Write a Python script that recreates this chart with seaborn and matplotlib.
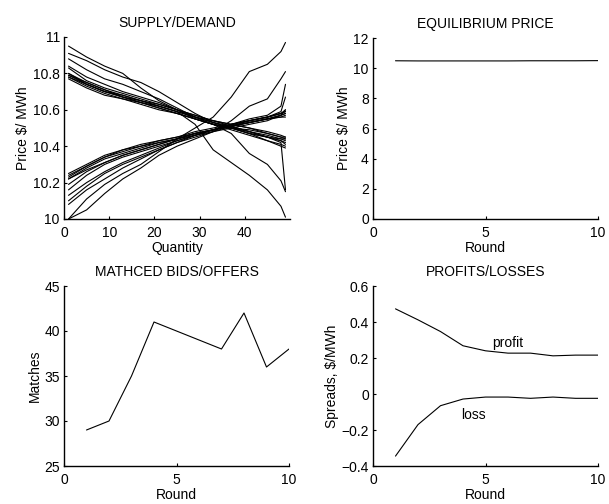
import numpy as np
import pandas as pd
import matplotlib
matplotlib.use("Agg")
import matplotlib.pyplot as plt
import seaborn as sns

# ---------------- data ----------------
quantity = [1, 5, 9, 13, 17, 21, 25, 29, 33, 37, 41, 45, 48, 49]

demand_curves = [
    [10.95, 10.89, 10.84, 10.80, 10.72, 10.65, 10.60, 10.55, 10.52, 10.50, 10.48, 10.46, 10.44, 10.44],
    [10.91, 10.87, 10.82, 10.78, 10.75, 10.70, 10.64, 10.58, 10.53, 10.50, 10.47, 10.45, 10.43, 10.42],
    [10.88, 10.82, 10.77, 10.74, 10.70, 10.66, 10.61, 10.56, 10.52, 10.49, 10.46, 10.43, 10.41, 10.40],
    [10.84, 10.78, 10.74, 10.70, 10.67, 10.64, 10.60, 10.57, 10.54, 10.51, 10.48, 10.45, 10.43, 10.41],
    [10.83, 10.76, 10.72, 10.69, 10.66, 10.63, 10.60, 10.56, 10.53, 10.50, 10.47, 10.45, 10.42, 10.16],
    [10.80, 10.75, 10.71, 10.67, 10.65, 10.62, 10.59, 10.56, 10.53, 10.51, 10.48, 10.45, 10.44, 10.43],
    [10.79, 10.74, 10.70, 10.68, 10.65, 10.63, 10.60, 10.57, 10.54, 10.52, 10.50, 10.47, 10.45, 10.44],
    [10.78, 10.73, 10.69, 10.66, 10.64, 10.61, 10.58, 10.55, 10.52, 10.50, 10.49, 10.47, 10.45, 10.45],
    [10.78, 10.74, 10.70, 10.67, 10.64, 10.62, 10.59, 10.56, 10.54, 10.52, 10.50, 10.48, 10.46, 10.45],
    [10.79, 10.75, 10.71, 10.68, 10.65, 10.62, 10.59, 10.52, 10.38, 10.31, 10.24, 10.16, 10.07, 10.01],
    [10.80, 10.74, 10.70, 10.67, 10.64, 10.61, 10.58, 10.55, 10.52, 10.47, 10.36, 10.30, 10.21, 10.15],
    [10.77, 10.72, 10.68, 10.66, 10.63, 10.60, 10.58, 10.55, 10.52, 10.50, 10.47, 10.43, 10.40, 10.39],
]

supply_curves = [
    [10.00, 10.11, 10.19, 10.25, 10.30, 10.37, 10.44, 10.50, 10.56, 10.67, 10.81, 10.85, 10.92, 10.97],
    [10.00, 10.05, 10.14, 10.22, 10.28, 10.35, 10.40, 10.44, 10.48, 10.54, 10.62, 10.66, 10.77, 10.81],
    [10.08, 10.16, 10.22, 10.28, 10.33, 10.38, 10.42, 10.46, 10.49, 10.52, 10.55, 10.57, 10.62, 10.74],
    [10.13, 10.20, 10.26, 10.31, 10.35, 10.39, 10.43, 10.46, 10.49, 10.52, 10.54, 10.56, 10.59, 10.67],
    [10.10, 10.18, 10.25, 10.30, 10.34, 10.38, 10.42, 10.45, 10.48, 10.51, 10.54, 10.56, 10.58, 10.60],
    [10.16, 10.24, 10.30, 10.34, 10.37, 10.40, 10.43, 10.46, 10.49, 10.52, 10.54, 10.56, 10.58, 10.59],
    [10.19, 10.26, 10.31, 10.35, 10.38, 10.41, 10.44, 10.47, 10.49, 10.51, 10.53, 10.55, 10.57, 10.58],
    [10.22, 10.28, 10.33, 10.36, 10.39, 10.42, 10.44, 10.47, 10.49, 10.51, 10.53, 10.55, 10.57, 10.58],
    [10.23, 10.29, 10.34, 10.37, 10.40, 10.43, 10.45, 10.47, 10.49, 10.51, 10.53, 10.55, 10.56, 10.57],
    [10.25, 10.30, 10.35, 10.38, 10.41, 10.43, 10.45, 10.48, 10.50, 10.52, 10.54, 10.56, 10.58, 10.59],
    [10.24, 10.29, 10.34, 10.38, 10.40, 10.42, 10.44, 10.46, 10.48, 10.50, 10.52, 10.54, 10.57, 10.60],
    [10.22, 10.27, 10.31, 10.35, 10.38, 10.41, 10.44, 10.47, 10.49, 10.51, 10.53, 10.55, 10.56, 10.56],
]

rounds = [1, 2, 3, 4, 5, 6, 7, 8, 9, 10]
equilibrium_price = [10.49, 10.48, 10.48, 10.48, 10.48, 10.48, 10.49, 10.49, 10.49, 10.50]
matches = [29, 30, 35, 41, 40, 39, 38, 42, 36, 38]
profit = [0.473, 0.412, 0.347, 0.268, 0.240, 0.227, 0.227, 0.212, 0.216, 0.216]
loss = [-0.345, -0.170, -0.065, -0.028, -0.017, -0.017, -0.024, -0.017, -0.024, -0.024]

titles = ["SUPPLY/DEMAND", "EQUILIBRIUM PRICE", "MATHCED BIDS/OFFERS", "PROFITS/LOSSES"]

# ---------------- style ----------------
sns.set_style("ticks")
plt.rcParams['font.family'] = ['Liberation Sans', 'DejaVu Sans']
FS = 10
plt.rcParams.update({
    'font.size': FS,
    'axes.titlesize': FS,
    'axes.labelsize': FS,
    'xtick.labelsize': FS,
    'ytick.labelsize': FS,
    'xtick.direction': 'in',
    'ytick.direction': 'in',
    'xtick.major.size': 2,
    'ytick.major.size': 2,
    'xtick.major.width': 0.8,
    'ytick.major.width': 0.8,
    'axes.linewidth': 1.0,
    'axes.edgecolor': 'black',
    'text.color': 'black',
    'axes.labelcolor': 'black',
    'xtick.color': 'black',
    'ytick.color': 'black',
})

fig = plt.figure(figsize=(6.09, 5.04), dpi=100)
W, H = 609, 504

def add_ax(x0, x1, ytop, ybot):
    return fig.add_axes([x0 / W, 1 - ybot / H, (x1 - x0) / W, (ybot - ytop) / H])

ax1 = add_ax(64, 290, 37, 219)
ax2 = add_ax(373, 598, 38, 219)
ax3 = add_ax(64, 289, 286, 466)
ax4 = add_ax(373, 598, 286, 466)

LW = 0.8

# Supply/demand
rows = []
for i, c in enumerate(demand_curves):
    for q, p in zip(quantity, c):
        rows.append({"curve": f"d{i}", "q": q, "p": p})
for i, c in enumerate(supply_curves):
    for q, p in zip(quantity, c):
        rows.append({"curve": f"s{i}", "q": q, "p": p})
sd = pd.DataFrame(rows)
sns.lineplot(data=sd, x="q", y="p", units="curve", estimator=None, color="black",
             lw=LW, ax=ax1, legend=False, sort=False)
ax1.set_xlim(0, 50)
ax1.set_ylim(10, 11)
ax1.set_xticks([0, 10, 20, 30, 40])
ax1.set_yticks([10, 10.2, 10.4, 10.6, 10.8, 11])
ax1.set_yticklabels(["10", "10.2", "10.4", "10.6", "10.8", "11"])
ax1.set_xlabel("Quantity")
ax1.set_ylabel("Price $/ MWh")

# Equilibrium price
eq = pd.DataFrame({"round": rounds, "price": equilibrium_price})
sns.lineplot(data=eq, x="round", y="price", color="black", lw=LW, ax=ax2)
ax2.set_xlim(0, 10)
ax2.set_ylim(0, 12)
ax2.set_xticks([0, 5, 10])
ax2.set_yticks([0, 2, 4, 6, 8, 10, 12])
ax2.set_xlabel("Round")
ax2.set_ylabel("Price $/ MWh")

# Matches
mt = pd.DataFrame({"round": rounds, "matches": matches})
sns.lineplot(data=mt, x="round", y="matches", color="black", lw=LW, ax=ax3)
ax3.set_xlim(0, 10)
ax3.set_ylim(25, 45)
ax3.set_xticks([0, 5, 10])
ax3.set_yticks([25, 30, 35, 40, 45])
ax3.set_xlabel("Round")
ax3.set_ylabel("Matches")

# Profits / losses
pl = pd.DataFrame({"round": rounds * 2, "spread": profit + loss,
                   "kind": ["profit"] * len(rounds) + ["loss"] * len(rounds)})
sns.lineplot(data=pl, x="round", y="spread", units="kind", estimator=None,
             color="black", lw=LW, ax=ax4, legend=False)
ax4.set_xlim(0, 10)
ax4.set_ylim(-0.4, 0.6)
ax4.set_xticks([0, 5, 10])
ax4.set_yticks([-0.4, -0.2, 0, 0.2, 0.4, 0.6])
ax4.set_yticklabels(["\u22120.4", "\u22120.2", "0", "0.2", "0.4", "0.6"])
ax4.set_xlabel("Round")
ax4.set_ylabel("Spreads, $/MWh")
ax4.text(6.0, 0.283, "profit", ha="center", va="center", fontsize=FS)
ax4.text(4.45, -0.114, "loss", ha="center", va="center", fontsize=FS)

for ax, t in zip([ax1, ax2, ax3, ax4], titles):
    ax.set_title(t, pad=7)
    ax.spines['top'].set_visible(False)
    ax.spines['right'].set_visible(False)
    ax.tick_params(axis='x', pad=5)
    ax.tick_params(axis='y', pad=3)
    ax.xaxis.labelpad = 1
    ax.yaxis.labelpad = 2

fig.savefig("out.png", dpi=100)
